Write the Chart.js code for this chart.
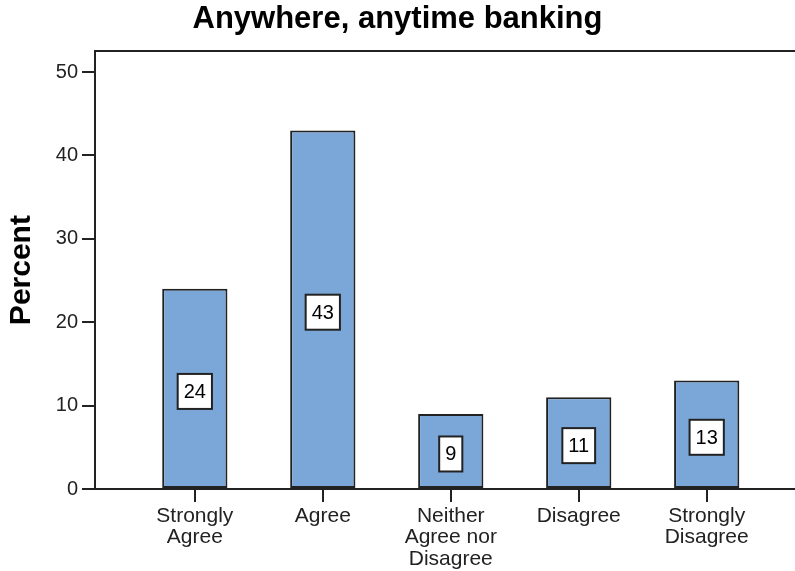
<!DOCTYPE html>
<html>
<head>
<meta charset="utf-8">
<script src="https://cdn.jsdelivr.net/npm/chart.js@4.4.0/dist/chart.umd.min.js"></script>
<style>
  html, body { margin: 0; padding: 0; background: #fff; }
  #wrap { width: 795px; height: 571px; }
</style>
</head>
<body>
<div id="wrap"><canvas id="grafico"></canvas></div>
<script>
// Dados do gráfico
var categorias = [['Strongly', 'Agree'], 'Agree', ['Neither', 'Agree nor', 'Disagree'], 'Disagree', ['Strongly', 'Disagree']];
var percentuais = [24, 43, 9, 11, 13];
var ticksY = [0, 10, 20, 30, 40, 50];

var fonte = "'Liberation Sans', Arial, sans-serif";
var corLinha = '#222';

// Caixinhas brancas com o valor no meio de cada barra
var rotulosValor = {
  id: 'rotulosValor',
  afterDatasetsDraw: function(chart) {
    var ctx = chart.ctx;
    var meta = chart.getDatasetMeta(0);
    ctx.save();
    ctx.font = '20px ' + fonte;
    ctx.textAlign = 'center';
    ctx.textBaseline = 'middle';
    meta.data.forEach(function(barra, i) {
      var txt = String(percentuais[i]);
      var w = ctx.measureText(txt).width + 12;
      var h = 35;
      var cx = barra.x;
      var cy = (barra.y + barra.base) / 2 + 3;
      ctx.fillStyle = '#fff';
      ctx.fillRect(cx - w / 2, cy - h / 2, w, h);
      ctx.strokeStyle = corLinha;
      ctx.lineWidth = 2;
      ctx.strokeRect(cx - w / 2, cy - h / 2, w, h);
      ctx.fillStyle = '#000';
      ctx.fillText(txt, cx, cy + 1);
    });
    ctx.restore();
  }
};

var ctx = document.getElementById('grafico').getContext('2d');

var grafico = new Chart(ctx, {
  type: 'bar',
  data: {
    datasets: [{
      label: 'Percent',
      data: percentuais.map(function(v, i) { return { x: i + 1, y: v }; }),
      backgroundColor: '#7aa7d7',
      borderColor: corLinha,
      borderWidth: 2,
      borderSkipped: false,
      barPercentage: 0.51,
      categoryPercentage: 1
    }]
  },
  options: {
    responsive: true,
    maintainAspectRatio: false,
    animation: false,
    layout: { padding: 0 },
    plugins: {
      legend: { display: false },
      tooltip: { enabled: false },
      title: {
        display: true,
        text: 'Anywhere, anytime banking',
        color: '#000',
        font: { size: 31, weight: 'bold', family: fonte },
        padding: { top: 1, bottom: 13 }
      }
    },
    scales: {
      x: {
        type: 'linear',
        position: 'bottom',
        offset: false,
        min: 0.22,
        max: 5.69,
        afterBuildTicks: function(s) {
          s.ticks = categorias.map(function(c, i) { return { value: i + 1 }; });
        },
        afterFit: function(s) { s.height = 82; },
        ticks: {
          callback: function(v) { return categorias[v - 1]; },
          font: { size: 21, family: fonte, lineHeight: 1.03 },
          color: '#222',
          padding: 3,
          maxRotation: 0,
          autoSkip: false
        },
        grid: { offset: false, drawOnChartArea: false, tickLength: 13, color: corLinha, lineWidth: 2 },
        border: { color: corLinha, width: 2 }
      },
      topo: {
        type: 'linear',
        position: 'top',
        min: 0,
        max: 1,
        afterFit: function(s) { s.height = 0; },
        ticks: { display: false },
        grid: { display: false },
        border: { display: true, color: corLinha, width: 2 }
      },
      y: {
        min: 0,
        max: 52.5,
        afterBuildTicks: function(s) {
          s.ticks = ticksY.map(function(v) { return { value: v }; });
        },
        afterFit: function(s) { s.width = 95; },
        ticks: {
          font: { size: 20, family: fonte },
          color: '#222',
          padding: 4
        },
        grid: { drawOnChartArea: false, tickLength: 13, color: corLinha, lineWidth: 2 },
        border: { color: corLinha, width: 2 },
        title: {
          display: true,
          text: 'Percent',
          color: '#000',
          font: { size: 30, weight: 'bold', family: fonte },
          padding: { top: 4, bottom: 0 }
        }
      }
    }
  },
  plugins: [rotulosValor]
});
</script>
</body>
</html>
